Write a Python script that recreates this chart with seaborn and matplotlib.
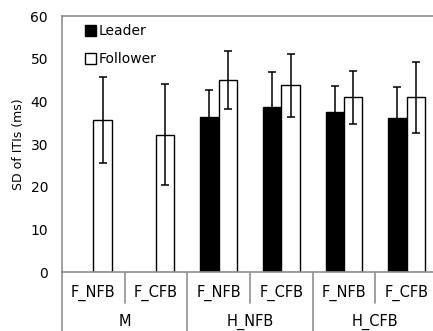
import numpy as np
import pandas as pd
import matplotlib
matplotlib.use("Agg")
import matplotlib.pyplot as plt
import seaborn as sns

groups = ["M", "H_NFB", "H_CFB"]
conditions = ["F_NFB", "F_CFB"]
roles = ["Leader", "Follower"]

leader_mean = [np.nan, np.nan, 36.4, 38.7, 37.5, 36.0]
leader_err = [np.nan, np.nan, 6.2, 8.2, 6.1, 7.3]
follower_mean = [35.6, 32.2, 45.1, 43.8, 40.9, 40.9]
follower_err = [10.0, 11.8, 6.8, 7.4, 6.2, 8.3]

cells = [(g, c) for g in groups for c in conditions]
keys = [g + "|" + c for g, c in cells]

rows = []
for k, lm, le, fm, fe in zip(keys, leader_mean, leader_err, follower_mean, follower_err):
    rows.append({"cell": k, "role": "Leader", "sd": lm, "err": le})
    rows.append({"cell": k, "role": "Follower", "sd": fm, "err": fe})
df = pd.DataFrame(rows)

sns.set_style("white")
plt.rcParams["font.family"] = ["DejaVu Sans"]
plt.rcParams["text.color"] = "black"
plt.rcParams["axes.labelcolor"] = "black"
plt.rcParams["ytick.labelcolor"] = "black"
grey = "#909090"

fig = plt.figure(figsize=(4.33, 3.31), dpi=100)
ax = fig.add_axes([62 / 433, 59 / 331, 376 / 433, 256 / 331])

sns.barplot(data=df.dropna(subset=["sd"]), x="cell", y="sd", hue="role",
            order=keys, hue_order=roles, palette=["black", "white"],
            edgecolor="black", linewidth=1.0, width=0.59, errorbar=None,
            saturation=1, ax=ax)

# error bars on top of the bars
errs = {(r["role"], r["cell"]): r["err"] for _, r in df.iterrows()}
for role, cont in zip(roles, ax.containers):
    for bar in cont:
        xc = bar.get_x() + bar.get_width() / 2
        k = keys[int(round(xc))]
        ax.errorbar(xc, bar.get_height(), yerr=errs[(role, k)], fmt="none",
                    ecolor="black", elinewidth=1.1, capsize=3, capthick=1.1, zorder=5)

ax.set_xlim(-0.5, 5.5)
ax.set_ylim(0, 60)
ax.set_yticks(range(0, 61, 10))
ax.tick_params(axis="y", direction="out", length=4, width=1, color=grey, pad=6,
               labelsize=10, labelcolor="black")
ax.set_xticks([])
ax.set_xlabel("")
ax.set_ylabel("SD of ITIs (ms)", fontsize=9, labelpad=4, color="black")
for s in ["left", "top", "bottom"]:
    ax.spines[s].set_color(grey)
    ax.spines[s].set_linewidth(1.2)
ax.spines["right"].set_visible(False)

# two-level category labels below the axis
tr = ax.get_xaxis_transform()
for i, (g, c) in enumerate(cells):
    ax.text(i, -0.081, c, transform=tr, ha="center", va="center", fontsize=10.5, color="black")
    if i % 2 == 1:
        ax.plot([i + 0.5, i + 0.5], [0, -0.23], transform=tr, color=grey, lw=1.2, clip_on=False)
    else:
        ax.plot([i + 0.5, i + 0.5], [0, -0.121], transform=tr, color=grey, lw=1.2, clip_on=False)
ax.plot([-0.5, -0.5], [0, -0.23], transform=tr, color=grey, lw=1.2, clip_on=False)
for j, g in enumerate(groups):
    ax.text(2 * j + 0.5, -0.195, g, transform=tr, ha="center", va="center", fontsize=10.5, color="black")

handles, labels = ax.get_legend_handles_labels()
ax.legend(handles, labels, loc="upper left", bbox_to_anchor=(0.04, 1.0), frameon=False,
          handlelength=0.8, handleheight=0.8, handletextpad=0.15, labelspacing=1.0,
          fontsize=10, borderaxespad=0.2, labelcolor="black")

fig.savefig("out.png", dpi=100)
